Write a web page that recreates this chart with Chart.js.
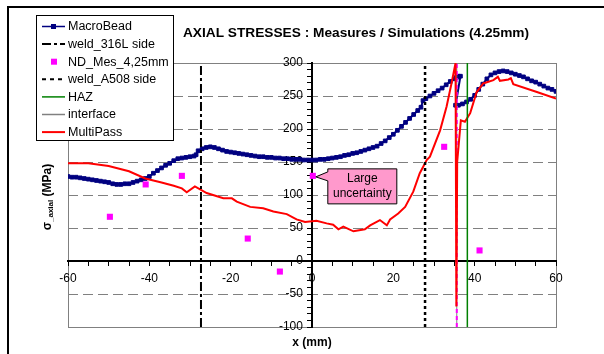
<!DOCTYPE html>
<html>
<head>
<meta charset="utf-8">
<script src="https://cdn.jsdelivr.net/npm/chart.js@4/dist/chart.umd.min.js"></script>
<style>
html,body{margin:0;padding:0;background:#fff;}
canvas{display:block;}
</style>
</head>
<body>
<canvas id="c" width="604" height="354"></canvas>
<script>
// ---------- DATA ----------
const xRange = [-60, 60];
const yRange = [-100, 300];
const xTickLabels = [-60, -40, -20, 0, 20, 40, 60];
const yTickLabels = [-100, -50, 0, 50, 100, 150, 200, 250, 300];

const seriesNames = ["MacroBead", "weld_316L side", "ND_Mes_4,25mm", "weld_A508 side", "HAZ", "interface", "MultiPass"];

const macroBeadX = [-60,-59,-58,-57,-56,-55,-54,-53,-52,-51,-50,-49,-48,-47,-46,-45,-44,-43,-42,-41,-40,-39,-38,-37,-36,-35,-34,-33,-32,-31,-30,-29,-28.5,
  -28,-27,-26,-25,-24,-23,-22,-21,-20,-19,-18,-17,-16,-15,-14,-13,-12,-11,-10,-9,-8,-7,-6,-5,-4,-3,-2,-1,0,1,2,3,4,5,6,7,8,9,10,11,12,13,14,15,16,17,18,19,20,21,22,23,24,25,26,26.8,27.3,28,29,30,31,32,33,34,35,35.5,36,36.5,
  35.3,36,37,38,39,40,41,42,43,44,45,46,47,48,49,50,51,52,53,54,55,56,57,58,59,60];
const macroBeadY = [128,127,127,126,125,124,123,122,121,120,119,117,116,116,117,117,119,121,123,125,128,133,137,141,145,148,152,155,156,157,158,159,161,
  167,170,172,173,172,170,168,166,165,164,163,162,161,160,159,158,158,157,157,156,156,155,155,154,154,154,153,153,153,153,154,154,155,156,157,158,160,161,163,164,166,168,170,172,174,178,182,187,192,198,204,210,216,222,228,233,243,246,250,254,258,262,267,272,276,278,280,280,
  236,236,238,241,245,251,260,268,276,282,285,287,288,287,285,283,281,279,276,273,271,268,265,262,260,257];

const multiPassX = [-60,-55,-50,-45,-41,-37,-34,-32,-30.8,-28.8,-25.9,-21.8,-19.7,-18.5,-15.2,-12,-9.5,-6.2,-3.8,-1.7,1.1,3.6,5.2,6.5,7.7,10.2,13,14.3,16.7,18.4,19.2,21.2,22.9,24.9,26.5,28.2,29,31.5,33.1,34.3,35.3,35.5,35.7,36.6,37.6,38.9,40.5,42.1,44.6,45.7,46.2,48.3,48.9,49.5,55.3,60];
const multiPassY = [148,148,144,136,125,119,114,110,104,113,103,95,95,90,82,80,75,71,63,59,61,57,55,48,52,45,48,54,62,54,63,72,82,105,133,153,158,198,234,269,300,-69,150,213,211,224,256,269,274,279,273,275,277,268,256,246];

const ndMesX = [-49.7,-40.9,-32,-15.8,-7.9,0.2,32.5,41.2];
const ndMesY = [67,116,129,34,-16,129,173,16];

const weld316LX = -27.3;
const weldA508X = 27.8;
const hazX = 38.2;
const interfaceX = 35.6;

const calloutText = ["Large", "uncertainty"];
const calloutPoint = [0.2, 129];

// ---------- BUILD ----------
const pts = (xs, ys) => xs.map((x, i) => ({x: x, y: ys[i]}));
const vline = (x) => [{x: x, y: yRange[0]}, {x: x, y: yRange[1]}];

const FONT = "'Liberation Sans', Arial, sans-serif";
Chart.defaults.font.family = FONT;
Chart.defaults.color = '#000';

const NAVY = '#000080', MAG = '#FF00FF', RED = '#FF0000', GREEN = '#008000', GRAY = '#808080';

const datasets = [
  {label: seriesNames[0], data: pts(macroBeadX, macroBeadY), showLine: true, borderColor: NAVY, borderWidth: 2,
   pointStyle: 'rect', pointRadius: 2.6, pointBackgroundColor: NAVY, pointBorderColor: NAVY, pointBorderWidth: 1, order: 9},
  {label: seriesNames[1], data: vline(weld316LX), showLine: true, borderColor: '#000', borderWidth: 2, borderDash: [9,3,3,3], pointRadius: 0, order: 3},
  {label: seriesNames[2], data: pts(ndMesX, ndMesY), showLine: false, pointStyle: 'rect', pointRadius: 4.3,
   pointBackgroundColor: MAG, pointBorderColor: MAG, pointBorderWidth: 0, order: 1},
  {label: seriesNames[3], data: vline(weldA508X), showLine: true, borderColor: '#000', borderWidth: 2.5, borderDash: [3,3], pointRadius: 0, order: 3},
  {label: seriesNames[4], data: vline(hazX), showLine: true, borderColor: GREEN, borderWidth: 1.5, pointRadius: 0, order: 4},
  {label: seriesNames[5], data: vline(interfaceX), showLine: true, borderColor: GRAY, borderWidth: 1, pointRadius: 0, order: 7},
  {label: seriesNames[6], data: pts(multiPassX, multiPassY), showLine: true, borderColor: RED, borderWidth: 2, pointRadius: 0, order: 5},
  {label: '', data: vline(interfaceX), showLine: true, borderColor: MAG, borderWidth: 2, borderDash: [4,3], pointRadius: 0, order: 6}
];

const legendStyles = [
  {color: NAVY, width: 1.5, dash: [], marker: 'navy'},
  {color: '#000', width: 2, dash: [9,3,3,3]},
  {color: null, marker: 'mag'},
  {color: '#000', width: 2, dash: [4,4]},
  {color: GREEN, width: 1.5, dash: []},
  {color: GRAY, width: 1.5, dash: []},
  {color: RED, width: 2, dash: []}
];

const deco = {
  id: 'deco',
  beforeDraw(chart) {
    const c = chart.ctx, a = chart.chartArea;
    c.save();
    c.fillStyle = '#fff';
    c.fillRect(0, 0, chart.width, chart.height);
    c.strokeStyle = GRAY; c.lineWidth = 1;
    c.strokeRect(a.left + 0.5, a.top + 0.5, a.right - a.left, a.bottom - a.top);
    c.restore();
  },
  afterDraw(chart) {
    const c = chart.ctx;
    const xs = chart.scales.x, ys = chart.scales.y;
    c.save();
    // page frame lines
    c.fillStyle = '#000';
    c.fillRect(7, 6, chart.width - 7, 2);
    c.fillRect(7, 6, 2, chart.height - 6);

    // title
    c.fillStyle = '#000';
    c.font = "bold 13.7px " + FONT;
    c.textAlign = 'center'; c.textBaseline = 'middle';
    c.fillText("AXIAL STRESSES : Measures / Simulations (4.25mm)", 356, 33);

    // x title
    c.font = "bold 12px " + FONT;
    c.fillText("x (mm)", 312, 343);

    // y title rotated
    c.save();
    c.translate(48, 197);
    c.rotate(-Math.PI / 2);
    c.textAlign = 'left'; c.textBaseline = 'middle';
    const p1 = "σ", p2 = "_axial", p3 = " (MPa)";
    c.font = "bold 12px " + FONT; const w1 = c.measureText(p1).width;
    c.font = "bold 8px " + FONT; const w2 = c.measureText(p2).width;
    c.font = "bold 12px " + FONT; const w3 = c.measureText(p3).width;
    let sx = -(w1 + w2 + w3) / 2;
    c.font = "bold 12px " + FONT; c.fillText(p1, sx, 0); sx += w1;
    c.font = "bold 8px " + FONT; c.fillText(p2, sx, 3); sx += w2;
    c.font = "bold 12px " + FONT; c.fillText(p3, sx, 0);
    c.restore();

    // legend
    const lx = 36, ly = 15, lw = 137, lh = 125;
    c.fillStyle = '#fff';
    c.fillRect(lx, ly, lw, lh);
    c.strokeStyle = '#000'; c.lineWidth = 1;
    c.strokeRect(lx + 0.5, ly + 0.5, lw, lh);
    c.font = "12.5px " + FONT;
    c.textAlign = 'left'; c.textBaseline = 'middle';
    for (let i = 0; i < seriesNames.length; i++) {
      const y = 26.5 + i * 17.6;
      const st = legendStyles[i];
      if (st.color) {
        c.save();
        c.strokeStyle = st.color; c.lineWidth = st.width; c.setLineDash(st.dash);
        c.beginPath(); c.moveTo(42, y); c.lineTo(65, y); c.stroke();
        c.restore();
      }
      if (st.marker === 'navy') { c.fillStyle = NAVY; c.fillRect(51, y - 2.5, 5, 5); }
      if (st.marker === 'mag') { c.fillStyle = MAG; c.fillRect(51, y - 3, 6, 6); }
      c.fillStyle = '#000';
      c.fillText(seriesNames[i], 68, y + 0.5);
    }

    // callout
    const ax = xs.getPixelForValue(calloutPoint[0]);
    const ay = ys.getPixelForValue(calloutPoint[1]);
    const bx = ax + 15, by = ay - 7, bw = 69, bh = 35;
    c.beginPath();
    c.moveTo(bx, by); c.lineTo(bx + bw, by); c.lineTo(bx + bw, by + bh); c.lineTo(bx, by + bh);
    c.lineTo(bx, by + 12); c.lineTo(ax + 3, ay + 1); c.lineTo(bx, by + 3); c.closePath();
    c.fillStyle = '#FF99CC'; c.fill();
    c.strokeStyle = '#000'; c.lineWidth = 1; c.stroke();
    c.fillStyle = '#000'; c.font = "12px " + FONT; c.textAlign = 'center';
    c.fillText(calloutText[0], bx + bw / 2, by + 10);
    c.fillText(calloutText[1], bx + bw / 2, by + 25);
    c.restore();
  }
};

new Chart(document.getElementById('c'), {
  type: 'scatter',
  data: {datasets: datasets},
  plugins: [deco],
  options: {
    responsive: false,
    animation: false,
    devicePixelRatio: 1,
    layout: {padding: {left: 68, right: 48, top: 63, bottom: 27}},
    plugins: {legend: {display: false}, title: {display: false}, tooltip: {enabled: false}},
    scales: {
      x: {
        type: 'linear', min: xRange[0], max: xRange[1], position: {y: 0},
        afterFit: (s) => { s.height = 0; },
        ticks: {stepSize: 5, autoSkip: false, maxRotation: 0, padding: 6, font: {size: 12}, color: '#000',
          callback: (v) => xTickLabels.includes(v) ? String(v) : ''},
        grid: {drawOnChartArea: false, drawTicks: true, tickLength: 4, tickColor: '#000', tickWidth: 1},
        border: {display: true, color: '#000', width: 2}
      },
      y: {
        type: 'linear', min: yRange[0], max: yRange[1], position: {x: 0},
        afterFit: (s) => { s.width = 0; },
        ticks: {stepSize: 10, autoSkip: false, padding: 4, font: {size: 12}, color: '#000',
          callback: (v) => yTickLabels.includes(v) ? String(v) + '\u2007\u2009' : ''},
        grid: {color: (ctx) => (ctx.tick && yTickLabels.includes(ctx.tick.value)) ? GRAY : 'rgba(0,0,0,0)',
          lineWidth: 1, tickLength: 4, tickColor: '#000', tickWidth: 1},
        border: {display: true, color: '#000', width: 2, dash: [10, 5]}
      }
    }
  }
});
</script>
</body>
</html>
